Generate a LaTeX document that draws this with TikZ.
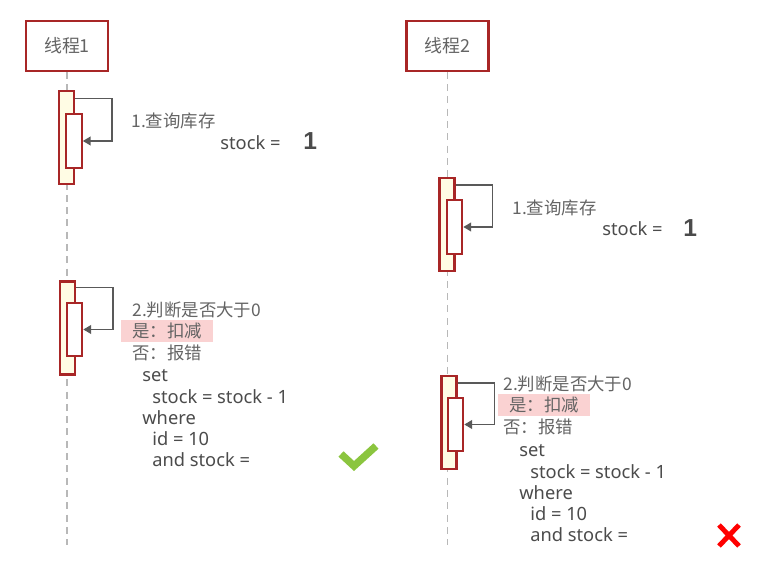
\documentclass[tikz,border=0pt]{standalone}
\usepackage{fontspec}
\setmainfont{Noto Sans CJK SC}
\newfontfamily\codefont{Noto Sans}
\newfontfamily\numfont{Liberation Sans}
\usetikzlibrary{arrows.meta}

\definecolor{boxred}{RGB}{168,38,38}
\definecolor{actfill}{RGB}{255,252,228}
\definecolor{txtgray}{RGB}{75,75,75}
\definecolor{cngray}{RGB}{100,100,100}
\definecolor{hlpink}{RGB}{250,210,210}
\definecolor{okgreen}{RGB}{139,197,63}

\begin{document}
\begin{tikzpicture}[
  x=0.02cm, y=-0.02cm,
  font=\fontsize{9.9}{11}\selectfont,
  >={Triangle[length=4.5pt, width=5pt]},
  thread/.style ={draw=boxred, line width=1.2pt, fill=white, minimum width=1.64cm, minimum height=0.99cm, text=cngray, inner sep=0pt, font=\fontsize{10.2}{11}\selectfont},
  life/.style   ={draw=black!28, line width=1.1pt, dash pattern=on 4pt off 3pt},
  actout/.style ={draw=boxred, line width=1.2pt, fill=actfill, minimum width=0.3cm, minimum height=1.86cm, inner sep=0pt},
  actin/.style  ={draw=boxred, line width=1.2pt, fill=white, minimum width=0.31cm, minimum height=1.07cm, inner sep=0pt},
  call/.style   ={->, draw=black!65, line width=1pt},
  cn/.style     ={anchor=west, inner sep=0pt, text=cngray},
  code/.style   ={anchor=west, inner sep=0pt, text=txtgray, font=\codefont\fontsize{10.4}{11}\selectfont},
  hl/.style     ={anchor=west, inner xsep=0.22cm, inner ysep=0pt, minimum height=0.44cm, fill=hlpink, text=cngray},
  big/.style    ={anchor=west, inner sep=0pt, text=txtgray, font=\numfont\fontsize{14}{15}\selectfont\bfseries},
]
\useasboundingbox (0,0) rectangle (762,564);

% ---- threads ----
\node[thread] (th1) at (67,46) {线程1};
\node[thread] (th2) at (447.5,46) {线程2};
\coordinate (end1) at (67,545);
\coordinate (end2) at (447.5,545);
\draw[life] (th1.south) -- (end1);
\draw[life] (th2.south) -- (end2);

% ---- thread 1: query ----
\node[actout] (o1) at (66.5,137.5) {};
\node[actin]  (i1) at (74,141) {};
\draw[call] ([yshift=-0.17cm]o1.north east) -- ++(37,0) |- (i1.east);
\node[cn]   (q1)  at (131,121) {1.查询库存};
\node[code] (s1)  at (220,143) {stock =};
\node[big]  (v1)  at (303,141) {1};

% ---- thread 1: check and update ----
\node[actout] (o2) at (67.5,328) {};
\node[actin]  (i2) at (74.5,329.5) {};
\draw[call] ([yshift=-0.14cm]o2.north east) -- ++(37,0) |- (i2.east);
\node[cn]   (c1)  at (132,310) {2.判断是否大于0};
\node[hl]   (y1)  at (121,331) {是：扣减};
\node[cn]   (n1)  at (132,353) {否：报错};
\node[code] (a1)  at (142,376) {set};
\node[code] (b1)  at (152,397) {stock = stock - 1};
\node[code] (w1)  at (142,418) {where};
\node[code] (d1)  at (152,439) {id = 10};
\node[code] (e1)  at (152,460) {and stock =};
\coordinate (ok1) at (341,454);
\coordinate (ok2) at (354,466);
\coordinate (ok3) at (376,446);
\draw[okgreen, line width=4.2pt] (ok1) -- (ok2) -- (ok3);

% ---- thread 2: query ----
\node[actout] (o3) at (447,224.5) {};
\node[actin]  (i3) at (454.5,227) {};
\draw[call] ([yshift=-0.16cm]o3.north east) -- ++(37,0) |- (i3.east);
\node[cn]   (q2)  at (512,208) {1.查询库存};
\node[code] (s2)  at (602,229) {stock =};
\node[big]  (v2)  at (683,228) {1};

% ---- thread 2: check and update ----
\node[actout] (o4) at (449,422.5) {};
\node[actin]  (i4) at (455.5,424.5) {};
\draw[call] ([yshift=-0.16cm]o4.north east) -- ++(37,0) |- (i4.east);
\node[cn]   (c2)  at (503,384) {2.判断是否大于0};
\node[hl]   (y2)  at (498,405) {是：扣减};
\node[cn]   (n2)  at (503,427) {否：报错};
\node[code] (a2)  at (519,451) {set};
\node[code] (b2)  at (530,472) {stock = stock - 1};
\node[code] (w2)  at (519,493) {where};
\node[code] (d2)  at (530,514) {id = 10};
\node[code] (e2)  at (530,535) {and stock =};
\coordinate (xa) at (719,525);
\coordinate (xb) at (739,546);
\coordinate (xc) at (739,525);
\coordinate (xd) at (719,546);
\draw[red, line width=2.8pt] (xa) -- (xb) (xc) -- (xd);

\end{tikzpicture}
\end{document}
